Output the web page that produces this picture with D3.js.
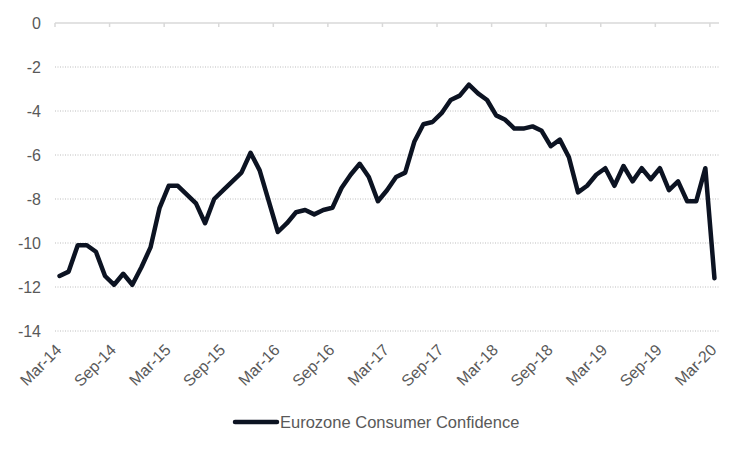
<!DOCTYPE html>
<html>
<head>
<meta charset="utf-8">
<script src="https://cdn.jsdelivr.net/npm/d3@7"></script>
<style>
  html, body { margin: 0; padding: 0; background: #ffffff; }
  svg { display: block; }
  text { font-family: "Liberation Sans", Arial, sans-serif; fill: #595959; }
</style>
</head>
<body>
<svg id="chart" width="750" height="450"></svg>
<script>
// ---- Data ----
const months = [
  "Mar-14","Apr-14","May-14","Jun-14","Jul-14","Aug-14","Sep-14","Oct-14","Nov-14","Dec-14",
  "Jan-15","Feb-15","Mar-15","Apr-15","May-15","Jun-15","Jul-15","Aug-15","Sep-15","Oct-15","Nov-15","Dec-15",
  "Jan-16","Feb-16","Mar-16","Apr-16","May-16","Jun-16","Jul-16","Aug-16","Sep-16","Oct-16","Nov-16","Dec-16",
  "Jan-17","Feb-17","Mar-17","Apr-17","May-17","Jun-17","Jul-17","Aug-17","Sep-17","Oct-17","Nov-17","Dec-17",
  "Jan-18","Feb-18","Mar-18","Apr-18","May-18","Jun-18","Jul-18","Aug-18","Sep-18","Oct-18","Nov-18","Dec-18",
  "Jan-19","Feb-19","Mar-19","Apr-19","May-19","Jun-19","Jul-19","Aug-19","Sep-19","Oct-19","Nov-19","Dec-19",
  "Jan-20","Feb-20","Mar-20"
];
const confidence = [
  -11.5,-11.3,-10.1,-10.1,-10.4,-11.5,-11.9,-11.4,-11.9,-11.1,
  -10.2,-8.4,-7.4,-7.4,-7.8,-8.2,-9.1,-8.0,-7.6,-7.2,-6.8,-5.9,
  -6.7,-8.1,-9.5,-9.1,-8.6,-8.5,-8.7,-8.5,-8.4,-7.5,-6.9,-6.4,
  -7.0,-8.1,-7.6,-7.0,-6.8,-5.4,-4.6,-4.5,-4.1,-3.5,-3.3,-2.8,
  -3.2,-3.5,-4.2,-4.4,-4.8,-4.8,-4.7,-4.9,-5.6,-5.3,-6.1,-7.7,
  -7.4,-6.9,-6.6,-7.4,-6.5,-7.2,-6.6,-7.1,-6.6,-7.6,-7.2,-8.1,
  -8.1,-6.6,-11.6
];
const xTickLabels = ["Mar-14","Sep-14","Mar-15","Sep-15","Mar-16","Sep-16","Mar-17","Sep-17","Mar-18","Sep-18","Mar-19","Sep-19","Mar-20"];
const yTicks = [0,-2,-4,-6,-8,-10,-12,-14];
const seriesName = "Eurozone Consumer Confidence";

// ---- Layout ----
const svg = d3.select("#chart");
const plot = { left: 55, right: 719, top: 23, bottom: 331 };
const lineColor = "#0c1322";

const x = d3.scalePoint().domain(months).range([plot.left, plot.right]).padding(0.5);
const y = d3.scaleLinear().domain([-14, 0]).range([plot.bottom, plot.top]);
const step = x.step();

// Gridlines (dotted)
svg.append("g").selectAll("line")
  .data(yTicks.filter(d => d !== 0))
  .join("line")
  .attr("x1", plot.left).attr("x2", plot.right)
  .attr("y1", d => y(d)).attr("y2", d => y(d))
  .attr("stroke", "#bdbdbd")
  .attr("stroke-width", 1)
  .attr("stroke-dasharray", "1,1.5");

// Y axis labels
const yAxis = d3.axisLeft(y).tickValues(yTicks).tickSize(0).tickPadding(0).tickFormat(d3.format("d"));
const gy = svg.append("g").attr("transform", `translate(41,0)`).call(yAxis);
gy.select(".domain").remove();
gy.selectAll("text")
  .attr("font-size", "16px")
  .attr("fill", "#595959")
  .attr("font-family", "Liberation Sans, Arial, sans-serif")
  .text(d => d === 0 ? "0" : "-" + Math.abs(d));

// Horizontal axis line at 0 (top) with tick marks
svg.append("line")
  .attr("x1", plot.left).attr("x2", plot.right)
  .attr("y1", y(0)).attr("y2", y(0))
  .attr("stroke", "#d9d9d9").attr("stroke-width", 1.5);
svg.append("g").selectAll("line")
  .data(xTickLabels)
  .join("line")
  .attr("x1", d => x(d) - step / 2).attr("x2", d => x(d) - step / 2)
  .attr("y1", y(0)).attr("y2", y(0) + 4)
  .attr("stroke", "#d9d9d9").attr("stroke-width", 1.5);

// X labels at bottom, rotated
svg.append("g").selectAll("text")
  .data(xTickLabels)
  .join("text")
  .attr("transform", d => `translate(${x(d) + 3},${plot.bottom + 20}) rotate(-45)`)
  .attr("text-anchor", "end")
  .attr("font-size", "16px")
  .text(d => d);

// Line
const line = d3.line()
  .x((d, i) => x(months[i]))
  .y(d => y(d));
svg.append("path")
  .datum(confidence)
  .attr("fill", "none")
  .attr("stroke", lineColor)
  .attr("stroke-width", 4.5)
  .attr("stroke-linejoin", "round")
  .attr("stroke-linecap", "round")
  .attr("d", line);

// Legend
const lg = svg.append("g").attr("transform", "translate(235,422)");
lg.append("line")
  .attr("x1", 0).attr("x2", 42).attr("y1", 0).attr("y2", 0)
  .attr("stroke", lineColor).attr("stroke-width", 4.5).attr("stroke-linecap", "round");
lg.append("text")
  .attr("x", 45).attr("y", 0)
  .attr("dy", "0.35em")
  .attr("font-size", "16.5px")
  .text(seriesName);
</script>
</body>
</html>
